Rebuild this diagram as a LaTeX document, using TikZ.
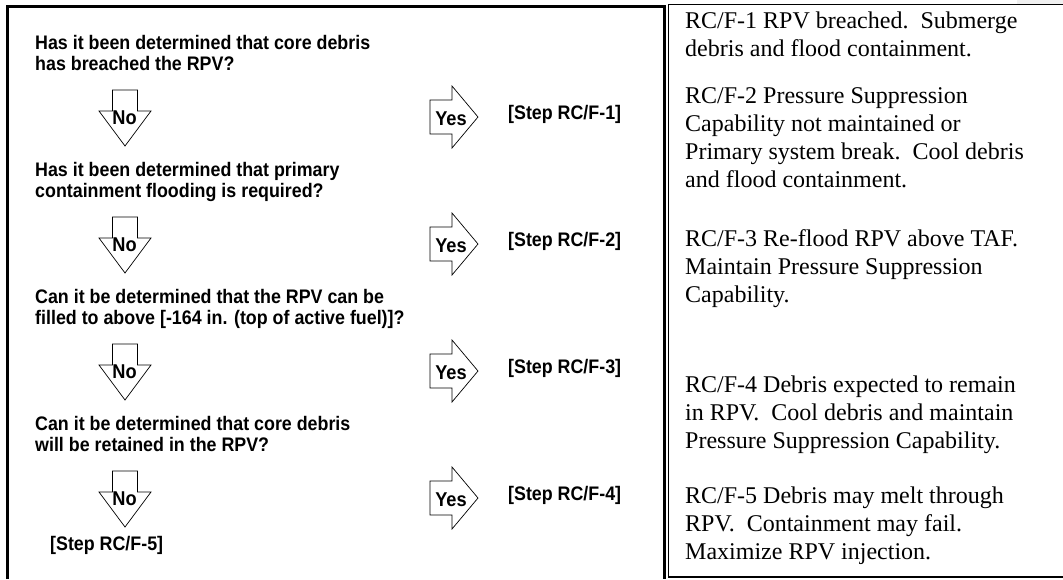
\documentclass[tikz,border=0pt]{standalone}
\usepackage{fontspec}
\setmainfont{Liberation Serif}
\newfontfamily\qsans{Liberation Sans}[FakeStretch=0.91]
\usetikzlibrary{positioning,calc}

\tikzset{
  question/.style={anchor=north west, inner sep=0pt, align=left,
    font=\qsans\bfseries\fontsize{19.6}{21}\selectfont},
  steplabel/.style={anchor=west, inner sep=0pt,
    font=\qsans\bfseries\fontsize{19.6}{21}\selectfont},
  arrowlabel/.style={inner sep=0pt, font=\qsans\bfseries\fontsize{20}{20}\selectfont},
  blockarrow/.style={draw, line width=0.7pt, fill=white, line join=miter},
  notes/.style={anchor=north west, inner sep=0pt, align=left,
    font=\frenchspacing\fontsize{24}{28}\selectfont},
}

\begin{document}
\begin{tikzpicture}[x=1pt, y=-1pt]
    \useasboundingbox (0,0) rectangle (1063,579);
    \fill[gray!12] (1017,0) rectangle (1063,4);

    % Questions of the flowchart
    \foreach \i/\y/\txt in {
        1/35/{Has it been determined that core debris\\has breached the RPV?},
        2/162/{Has it been determined that primary\\containment flooding is required?},
        3/289/{Can it be determined that the RPV can be\\filled to above [-164 in. (top of active fuel)]?},
        4/416/{Can it be determined that core debris\\will be retained in the RPV?}} {
        \node[question] (q\i) at (35,\y) {\txt};
    }

    % No / Yes arrows and the steps they lead to
    \foreach \i/\c in {1/117, 2/244, 3/371, 4/498} {
        \draw[blockarrow] (112.5,\c-27) -- (137.5,\c-27) -- (137.5,\c-6) -- (151,\c-6)
            -- (125,\c+29) -- (99,\c-6) -- (112.5,\c-6) -- cycle;
        \node[arrowlabel] (no\i) at (124.5,\c+1) {No};
        \draw[blockarrow] (430,\c-17) -- (452,\c-17) -- (452,\c-31) -- (478,\c)
            -- (452,\c+31) -- (452,\c+17) -- (430,\c+17) -- cycle;
        \node[arrowlabel] (yes\i) at (451,\c+2) {Yes};
        \node[steplabel] (step\i) at (508,\c-3) {[Step RC/F-\i]};
    }
    \node[steplabel] (step5) at (50,545) {[Step RC/F-5]};

    % Notes on the right
    \node[notes] (n1) at (685,12) {RC/F-1 RPV breached.~ Submerge\\debris and flood containment.};
    \node[notes] (n2) at (685,87) {RC/F-2 Pressure Suppression\\Capability not maintained or\\Primary system break.~ Cool debris\\and flood containment.};
    \node[notes] (n3) at (685,229) {RC/F-3 Re-flood RPV above TAF.\\Maintain Pressure Suppression\\Capability.};
    \node[notes] (n4) at (685,376) {RC/F-4 Debris expected to remain\\in RPV.~ Cool debris and maintain\\Pressure Suppression Capability.};
    \node[notes] (n5) at (685,487) {RC/F-5 Debris may melt through\\RPV.~ Containment may fail.\\Maximize RPV injection.};

    % Frames
    \draw[line width=3pt] (7.5,579) -- (7.5,6.5) -- (664.5,6.5) -- (664.5,579);
    \draw[line width=1pt] (1063,4.5) -- (668.5,4.5) -- (668.5,577);
    \draw[line width=1.6pt] (668,577) -- (1063,577);
\end{tikzpicture}
\end{document}
